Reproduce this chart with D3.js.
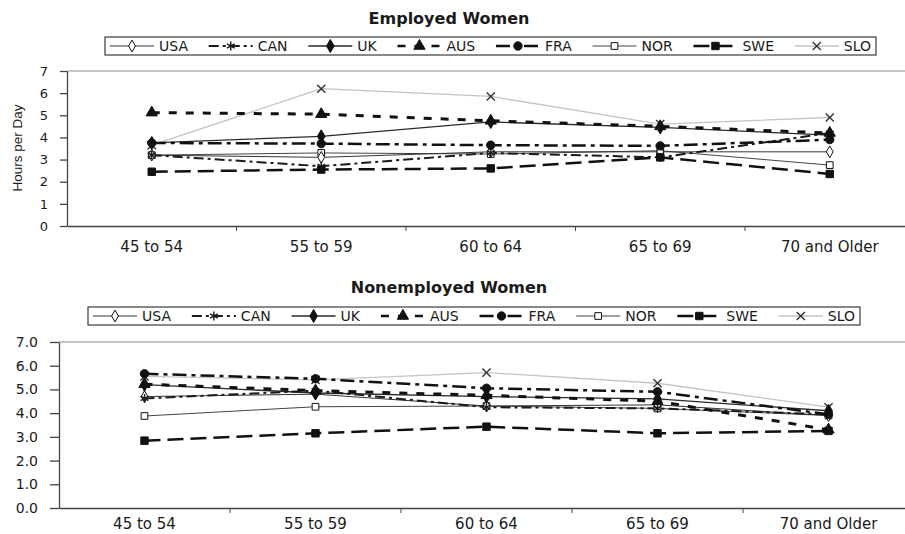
<!DOCTYPE html>
<html>
<head>
<meta charset="utf-8">
<script src="https://cdn.jsdelivr.net/npm/d3@7"></script>
<style>
  body { margin: 0; background: #fff; }
  svg { display: block; }
  text { font-family: "DejaVu Sans", sans-serif; fill: #1a1a1a; }
</style>
</head>
<body>
<svg id="chart" width="905" height="534"></svg>
<script>
// age groups along the x axis
const ageGroups = ["45 to 54", "55 to 59", "60 to 64", "65 to 69", "70 and Older"];
const countries = ["USA", "CAN", "UK", "AUS", "FRA", "NOR", "SWE", "SLO"];
const yTicks = [0, 1, 2, 3, 4, 5, 6, 7];

// Employed women, hours per day
const empUSA = [3.2, 3.1, 3.35, 3.35, 3.35];
const empCAN = [3.2, 2.7, 3.3, 3.1, 4.2];
const empUK  = [3.75, 4.05, 4.7, 4.45, 4.1];
const empAUS = [5.12, 5.05, 4.75, 4.5, 4.2];
const empFRA = [3.75, 3.72, 3.65, 3.62, 3.9];
const empNOR = [3.2, 3.3, 3.25, 3.4, 2.75];
const empSWE = [2.45, 2.55, 2.6, 3.1, 2.35];
const empSLO = [3.65, 6.2, 5.85, 4.6, 4.9];

// Nonemployed women, hours per day
const nonUSA = [4.7, 4.8, 4.3, 4.35, 3.9];
const nonCAN = [4.62, 4.95, 4.25, 4.2, 3.95];
const nonUK  = [5.2, 4.85, 4.7, 4.6, 4.1];
const nonAUS = [5.22, 4.95, 4.75, 4.5, 3.3];
const nonFRA = [5.66, 5.45, 5.05, 4.9, 3.95];
const nonNOR = [3.88, 4.27, 4.3, 4.2, 3.9];
const nonSWE = [2.84, 3.15, 3.43, 3.15, 3.25];
const nonSLO = [5.55, 5.4, 5.71, 5.26, 4.25];

const svg = d3.select("#chart");

const sym = (name, alt) => d3[name] || alt;

// how each country is drawn (scan is grayscale)
const styles = {
  USA: { stroke: "#333", width: 1, dash: null, shape: d3.symbolDiamond, fill: "#fff", size: 40 },
  CAN: { stroke: "#1a1a1a", width: 2, dash: "10,4,3,4", shape: sym("symbolAsterisk", d3.symbolCross), fill: "none", size: 55 },
  UK:  { stroke: "#2a2a2a", width: 1.3, dash: null, shape: d3.symbolDiamond, fill: "#111", size: 50 },
  AUS: { stroke: "#111", width: 3, dash: "8,9", shape: d3.symbolTriangle, fill: "#111", size: 55 },
  FRA: { stroke: "#111", width: 2.5, dash: "14,5,4,5", shape: d3.symbolCircle, fill: "#111", size: 55 },
  NOR: { stroke: "#444", width: 1, dash: null, shape: d3.symbolSquare, fill: "#fff", size: 45 },
  SWE: { stroke: "#111", width: 2.5, dash: "16,7", shape: d3.symbolSquare, fill: "#111", size: 55 },
  SLO: { stroke: "#c4c4c4", width: 1.3, dash: null, shape: sym("symbolTimes", d3.symbolCross), fill: "none", size: 45, mark: "#333" }
};
const drawOrder = ["SLO", "NOR", "USA", "UK", "CAN", "FRA", "AUS", "SWE"];

function addMarker(g, c, cx, cy) {
  const s = styles[c];
  const open = s.fill === "none";
  g.append("path")
    .attr("d", d3.symbol(s.shape, s.size)())
    .attr("transform", `translate(${cx},${cy})` + (c === "SLO" && !d3.symbolTimes ? " rotate(45)" : ""))
    .attr("fill", s.fill)
    .attr("stroke", open ? (s.mark || s.stroke) : "#111")
    .attr("stroke-width", open ? 1.4 : 1);
}

function drawLegend(cfg) {
  const g = svg.append("g");
  g.append("rect")
    .attr("x", cfg.legendX).attr("y", cfg.legendY)
    .attr("width", cfg.legendW).attr("height", 18)
    .attr("fill", "#fff").attr("stroke", "#3a3a3a").attr("stroke-width", 1.2);

  const sample = 44;
  const labels = countries.map(c => g.append("text")
    .attr("y", cfg.legendY + 14)
    .style("font-size", "14px")
    .text(c));
  const widths = labels.map(t => t.node().getComputedTextLength());
  const used = d3.sum(widths) + countries.length * (sample + 5);
  const gap = (cfg.legendW - 10 - used) / (countries.length - 1);

  let x = cfg.legendX + 5;
  const my = cfg.legendY + 9;
  countries.forEach((c, i) => {
    const s = styles[c];
    g.append("line")
      .attr("x1", x).attr("x2", x + sample)
      .attr("y1", my).attr("y2", my)
      .attr("stroke", s.stroke)
      .attr("stroke-width", Math.min(s.width, 2.5))
      .attr("stroke-dasharray", s.dash);
    addMarker(g, c, x + sample / 2, my);
    labels[i].attr("x", x + sample + 5);
    x += sample + 5 + widths[i] + gap;
  });
}

function drawPanel(cfg) {
  const x = d3.scaleBand()
    .domain(ageGroups)
    .range([cfg.left, cfg.left + ageGroups.length * cfg.band]);
  const y = d3.scaleLinear()
    .domain([0, 7])
    .range([cfg.bottom, cfg.top]);

  svg.append("text")
    .attr("x", 449).attr("y", cfg.titleY)
    .attr("text-anchor", "middle")
    .style("font-size", "16px")
    .style("font-weight", "bold")
    .text(cfg.title);

  // top frame line
  svg.append("line")
    .attr("x1", cfg.left).attr("x2", 905)
    .attr("y1", cfg.top).attr("y2", cfg.top)
    .attr("stroke", "#8c8c8c").attr("stroke-width", 1.2);

  const ya = svg.append("g")
    .attr("transform", `translate(${cfg.left},0)`)
    .call(d3.axisLeft(y).tickValues(yTicks).tickFormat(cfg.fmt)
      .tickSize(cfg.ytick).tickSizeOuter(0).tickPadding(cfg.ypad));
  ya.selectAll("text").style("font-size", cfg.yfont).style("font-family", "DejaVu Sans");

  const xa = svg.append("g")
    .attr("transform", `translate(0,${cfg.bottom})`)
    .call(d3.axisBottom(x).tickSize(0).tickSizeOuter(0).tickPadding(cfg.xpad));
  xa.selectAll("text").style("font-size", "15px").style("font-family", "DejaVu Sans");
  xa.selectAll("line.bt")
    .data(ageGroups.slice(1))
    .join("line")
    .attr("class", "bt")
    .attr("x1", d => x(d)).attr("x2", d => x(d))
    .attr("y1", 0).attr("y2", 5)
    .attr("stroke", "#444");

  svg.selectAll(".domain, .tick line").attr("stroke", "#444").attr("stroke-width", 1.3);

  const cx = d => x(d) + x.bandwidth() / 2;
  const line = d3.line()
    .x((d, i) => cx(ageGroups[i]))
    .y(d => y(d));

  const g = svg.append("g");
  drawOrder.forEach(c => {
    const s = styles[c];
    g.append("path")
      .datum(cfg.series[c])
      .attr("d", line)
      .attr("fill", "none")
      .attr("stroke", s.stroke)
      .attr("stroke-width", s.width)
      .attr("stroke-dasharray", s.dash);
  });
  drawOrder.forEach(c => {
    cfg.series[c].forEach((v, i) => addMarker(g, c, cx(ageGroups[i]), y(v)));
  });

  drawLegend(cfg);
}

drawPanel({
  title: "Employed Women", titleY: 24,
  legendX: 105, legendY: 37, legendW: 771,
  left: 67, band: 169.5, top: 71, bottom: 226,
  ytick: 7, ypad: 12, yfont: "13px", xpad: 15,
  fmt: d3.format("d"),
  series: { USA: empUSA, CAN: empCAN, UK: empUK, AUS: empAUS, FRA: empFRA, NOR: empNOR, SWE: empSWE, SLO: empSLO }
});

drawPanel({
  title: "Nonemployed Women", titleY: 293,
  legendX: 88, legendY: 307, legendW: 772,
  left: 59, band: 171, top: 342, bottom: 508,
  ytick: 9, ypad: 12, yfont: "14px", xpad: 10,
  fmt: d3.format(".1f"),
  series: { USA: nonUSA, CAN: nonCAN, UK: nonUK, AUS: nonAUS, FRA: nonFRA, NOR: nonNOR, SWE: nonSWE, SLO: nonSLO }
});

svg.append("text")
  .attr("transform", "translate(22,148) rotate(-90)")
  .attr("text-anchor", "middle")
  .style("font-family", "Liberation Sans")
  .style("font-size", "13.5px")
  .text("Hours per Day");
</script>
</body>
</html>
